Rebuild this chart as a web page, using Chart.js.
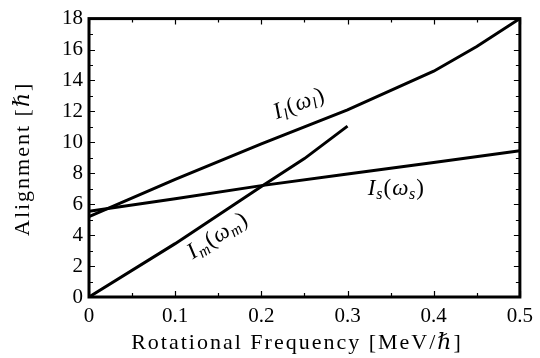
<!DOCTYPE html>
<html>
<head>
<meta charset="utf-8">
<script src="https://cdn.jsdelivr.net/npm/chart.js@4/dist/chart.umd.min.js"></script>
<style>
html,body{margin:0;padding:0;background:#fff;}
#wrap{width:540px;height:358px;position:relative;}
</style>
</head>
<body>
<div id="wrap"><canvas id="c" width="540" height="358"></canvas></div>
<script>
// ---- data ----
const xLabelTitle = 'Rotational Frequency [MeV/\u210F]';
const yLabelTitle = 'Alignment [\u210F]';
const xTicks = [0, 0.1, 0.2, 0.3, 0.4, 0.5];
const yTicks = [0, 2, 4, 6, 8, 10, 12, 14, 16, 18];

const lFreq = [0, 0.1, 0.2, 0.3, 0.4, 0.45, 0.5];
const lAlign = [5.2, 7.6, 9.9, 12.1, 14.6, 16.2, 18.0];

const sFreq = [0, 0.1, 0.2, 0.3, 0.4, 0.5];
const sAlign = [5.55, 6.35, 7.2, 7.95, 8.7, 9.45];

const mFreq = [0, 0.1, 0.2, 0.25, 0.3];
const mAlign = [0, 3.45, 7.15, 8.95, 11.05];

// curve labels, placed in data coordinates
const curveLabels = [
  {main:'I', sub:'l', arg:'\u03C9', x:0.246, y:12.1, angle:-21},
  {main:'I', sub:'s', arg:'\u03C9', x:0.356, y:6.6, angle:0},
  {main:'I', sub:'m', arg:'\u03C9', x:0.153, y:3.6, angle:-33}
];

const toXY = (xs, ys) => xs.map((v, i) => ({x: v, y: ys[i]}));

const SERIF = '"Liberation Serif", "DejaVu Serif", serif';

const tickPlugin = {
  id: 'ticksAndLabels',
  afterDatasetsDraw(chart) {
    const ctx = chart.ctx;
    const a = chart.chartArea;
    const xs = chart.scales.x, ys = chart.scales.y;
    ctx.save();
    ctx.strokeStyle = '#000';
    ctx.lineWidth = 1.2;
    const major = 6, minor = 4;
    for (let i = 0; i < xTicks.length; i++) {
      const vals = [[xTicks[i], major]];
      if (i < xTicks.length - 1) vals.push([(xTicks[i] + xTicks[i+1]) / 2, minor]);
      for (const [v, len] of vals) {
        const px = Math.round(xs.getPixelForValue(v)) + 0.5;
        ctx.beginPath();
        ctx.moveTo(px, a.bottom); ctx.lineTo(px, a.bottom - len);
        ctx.moveTo(px, a.top); ctx.lineTo(px, a.top + len);
        ctx.stroke();
      }
    }
    for (let i = 0; i < yTicks.length; i++) {
      const vals = [[yTicks[i], major]];
      if (i < yTicks.length - 1) vals.push([(yTicks[i] + yTicks[i+1]) / 2, minor]);
      for (const [v, len] of vals) {
        const py = Math.round(ys.getPixelForValue(v)) + 0.5;
        ctx.beginPath();
        ctx.moveTo(a.left, py); ctx.lineTo(a.left + len, py);
        ctx.moveTo(a.right, py); ctx.lineTo(a.right - len, py);
        ctx.stroke();
      }
    }
    ctx.lineWidth = 3;
    ctx.strokeRect(a.left, a.top, a.right - a.left, a.bottom - a.top);

    // axis titles (spaced to mimic the wider TeX font)
    ctx.fillStyle = '#000';
    ctx.font = '22px ' + SERIF;
    ctx.letterSpacing = '2px';
    ctx.textAlign = 'center';
    ctx.textBaseline = 'middle';
    ctx.fillText(xLabelTitle, 297, 343);
    ctx.save();
    ctx.translate(23, (a.top + a.bottom) / 2 + 1);
    ctx.rotate(-Math.PI / 2);
    ctx.fillText(yLabelTitle, 0, 0);
    ctx.restore();
    ctx.letterSpacing = '0px';

    // curve labels
    ctx.textBaseline = 'alphabetic';
    ctx.textAlign = 'left';
    for (const L of curveLabels) {
      const px = xs.getPixelForValue(L.x), py = ys.getPixelForValue(L.y);
      ctx.save();
      ctx.translate(px, py);
      ctx.rotate(L.angle * Math.PI / 180);
      const big = 'italic 23px ' + SERIF;
      const small = 'italic 16px ' + SERIF;
      const up = '23px ' + SERIF;
      const parts = [
        [big, L.main, 0, 1], [small, L.sub, 4, 1], [up, '(', 0, 1],
        [big, L.arg, 0, 0.5], [small, L.sub, 4, 1], [up, ')', 0, 0]
      ];
      let w = 0;
      for (const [f, t, dy, g] of parts) { ctx.font = f; w += ctx.measureText(t).width + g; }
      let cx = -w / 2;
      for (const [f, t, dy, g] of parts) {
        ctx.font = f;
        ctx.fillText(t, cx, dy);
        cx += ctx.measureText(t).width + g;
      }
      ctx.restore();
    }
    ctx.restore();
  }
};

const lineStyle = {borderColor:'#000', borderWidth:3, pointRadius:0, fill:false, tension:0};

new Chart(document.getElementById('c'), {
  type: 'line',
  data: {
    datasets: [
      Object.assign({label:'I_l', data: toXY(lFreq, lAlign)}, lineStyle),
      Object.assign({label:'I_s', data: toXY(sFreq, sAlign)}, lineStyle),
      Object.assign({label:'I_m', data: toXY(mFreq, mAlign)}, lineStyle)
    ]
  },
  options: {
    responsive: false,
    animation: false,
    layout: {padding: {left: 0, right: 17, top: 15, bottom: 0}},
    plugins: {legend: {display: false}, tooltip: {enabled: false}},
    scales: {
      x: {
        type: 'linear', min: 0, max: 0.5,
        afterBuildTicks: s => { s.ticks = xTicks.map(v => ({value: v})); },
        afterFit: s => { s.height = 61; },
        grid: {display: false, drawTicks: false},
        border: {display: false},
        ticks: {color:'#000', font:{family: SERIF, size: 21}, padding: 7, maxRotation: 0,
                callback: v => (v === 0 ? '0' : v.toFixed(1))},
        title: {display: false}
      },
      y: {
        type: 'linear', min: 0, max: 18,
        afterBuildTicks: s => { s.ticks = yTicks.map(v => ({value: v})); },
        afterFit: s => { s.width = 89; },
        grid: {display: false, drawTicks: false},
        border: {display: false},
        ticks: {color:'#000', font:{family: SERIF, size: 21}, padding: 6},
        title: {display: false}
      }
    }
  },
  plugins: [tickPlugin]
});
</script>
</body>
</html>
